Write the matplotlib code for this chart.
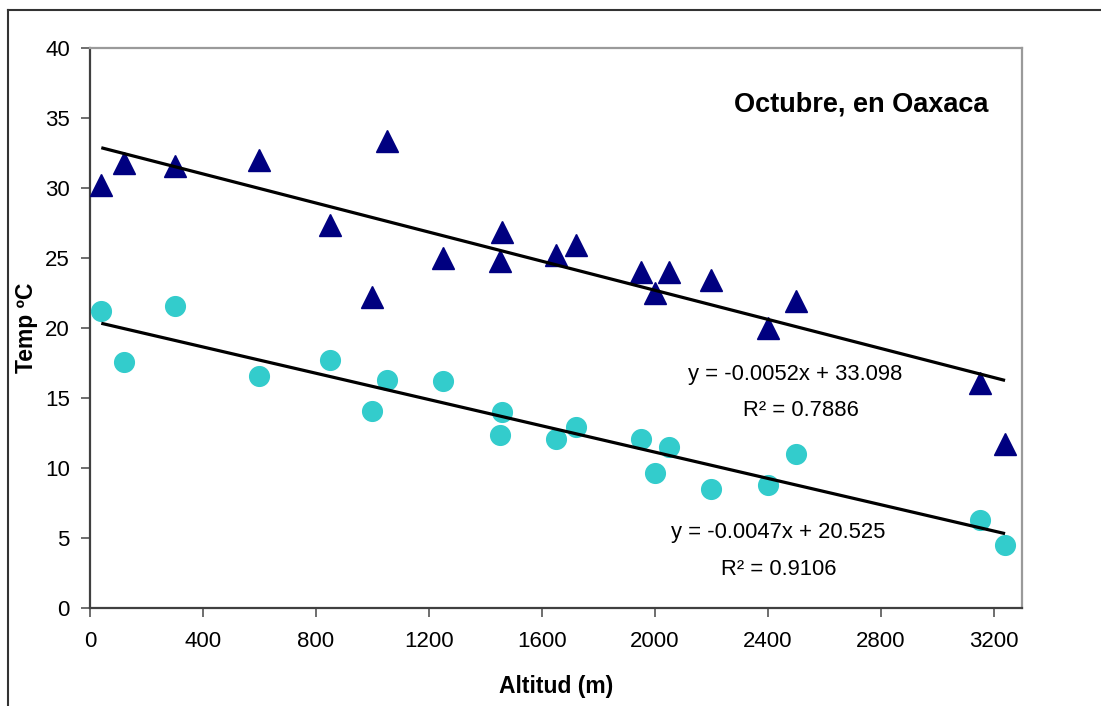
import matplotlib.pyplot as plt
from matplotlib.lines import Line2D

plt.rcParams['font.family'] = ['Liberation Sans', 'DejaVu Sans']

# altitude (m) and temperature (ºC) for each station
alt_max = [40, 120, 300, 600, 850, 1000, 1050, 1250, 1450, 1460, 1650, 1720,
           1950, 2000, 2050, 2200, 2400, 2500, 3150, 3240]
temp_max = [30.2, 31.8, 31.6, 32.0, 27.4, 22.2, 33.35, 25.0, 24.8, 26.9, 25.2, 25.9,
            24.0, 22.5, 24.0, 23.4, 20.0, 21.9, 16.1, 11.7]

alt_min = [40, 120, 300, 600, 850, 1000, 1050, 1250, 1450, 1460, 1650, 1720,
           1950, 2000, 2050, 2200, 2400, 2500, 3150, 3240]
temp_min = [21.2, 17.6, 21.6, 16.6, 17.7, 14.1, 16.3, 16.2, 12.35, 14.0, 12.05, 12.9,
            12.07, 9.6, 11.5, 8.5, 8.8, 11.0, 6.27, 4.48]

# linear trend coefficients (slope, intercept, r2)
fit_max = (-0.0052, 33.098, 0.7886)
fit_min = (-0.0047, 20.525, 0.9106)

W, H = 1101, 706
fig = plt.figure(figsize=(W / 100, H / 100), dpi=100)
ax = fig.add_axes([90 / W, (H - 607.7) / H, (1022 - 90) / W, (607.7 - 48.3) / H])

ax.plot(alt_max, temp_max, linestyle='none', marker='^', markersize=15.5,
        color='#000080', zorder=3)
ax.plot(alt_min, temp_min, linestyle='none', marker='o', markersize=14.2,
        color='#33CCCC', zorder=3)

for alts, (m, b, r2) in ((alt_max, fit_max), (alt_min, fit_min)):
    x0, x1 = min(alts), max(alts)
    ax.plot([x0, x1], [m * x0 + b, m * x1 + b], color='black', lw=2.3, zorder=4,
            solid_capstyle='butt')

# trend equations
eq_font = dict(ha='center', va='baseline', fontsize=15.8)
ax.text(2496, 16.28, 'y = %.4fx + %.3f' % fit_max[:2], **eq_font)
ax.text(2517, 13.71, 'R² = %.4f' % fit_max[2], **eq_font)
ax.text(2436, 4.96, 'y = %.4fx + %.3f' % fit_min[:2], **eq_font)
ax.text(2440, 2.34, 'R² = %.4f' % fit_min[2], **eq_font)

ax.set_xlim(0, 3300)
ax.set_ylim(0, 40)
ax.set_xticks(range(0, 3201, 400))
ax.set_yticks(range(0, 41, 5))
ax.tick_params(axis='both', direction='out', length=6.5, width=1.2, color='#555555',
               labelsize=16)
ax.tick_params(axis='y', pad=8)
ax.tick_params(axis='x', pad=10)

for side in ('left', 'bottom'):
    ax.spines[side].set_color('#404040')
    ax.spines[side].set_linewidth(1.6)
for side in ('top', 'right'):
    ax.spines[side].set_color('#9a9a9a')
    ax.spines[side].set_linewidth(1.6)

fig.text(861 / W, 1 - 111.7 / H, 'Octubre, en Oaxaca', ha='center', va='baseline',
         fontsize=19.5, fontweight='bold')
fig.text(27 / W, 1 - 328 / H, 'Temp ºC', ha='center', va='center', rotation=90,
         fontsize=16.5, fontweight='bold')
fig.text(556 / W, 1 - 693.3 / H, 'Altitud (m)', ha='center', va='baseline',
         fontsize=16.5, fontweight='bold')

# outer chart frame
fig.add_artist(Line2D([8 / W, 1], [1 - 10 / H, 1 - 10 / H], color='#333333', lw=1.5))
fig.add_artist(Line2D([8 / W, 8 / W], [0, 1 - 10 / H], color='#333333', lw=1.5))

fig.savefig('out.png', dpi=100)
